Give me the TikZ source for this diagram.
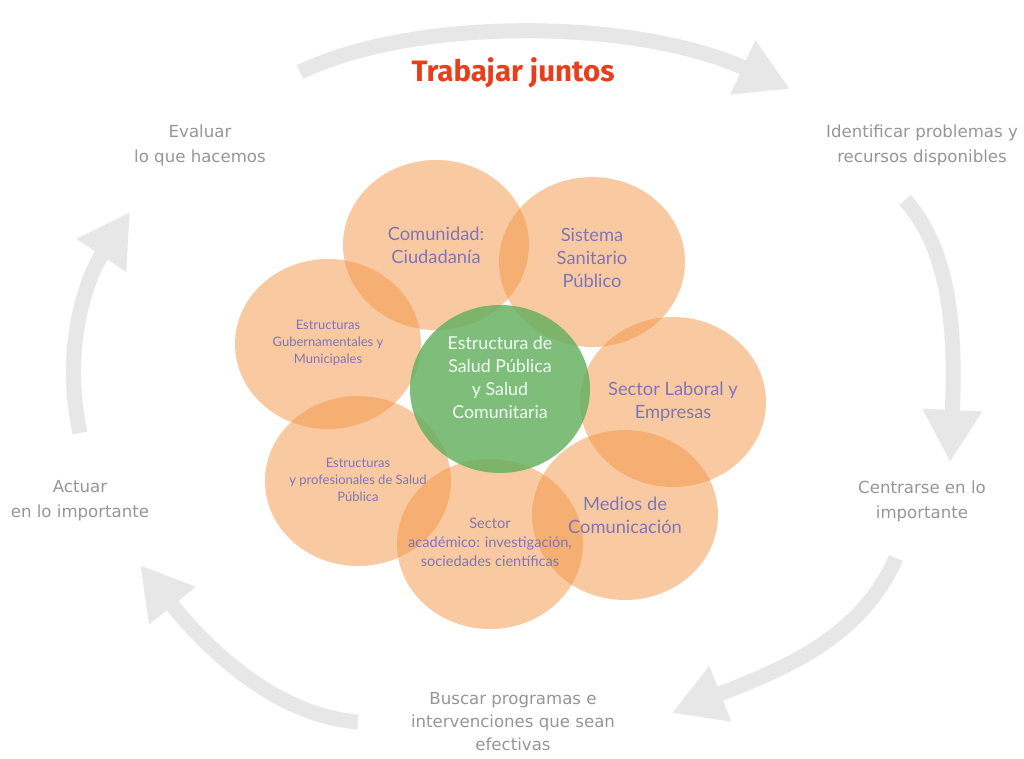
\documentclass[tikz,border=0pt]{standalone}
\usepackage{fontspec}
\setmainfont{Lato}
\newfontfamily\labelfont{DejaVu Sans}
\newfontfamily\titlefont{Fira Sans}
\usetikzlibrary{arrows.meta,shapes.geometric}
\definecolor{orangefill}{RGB}{245,150,70}
\definecolor{greenfill}{RGB}{100,175,95}
\definecolor{circtext}{RGB}{128,118,182}
\definecolor{arrowgrey}{RGB}{231,231,231}
\definecolor{labelgrey}{RGB}{150,150,150}
\definecolor{titlered}{RGB}{232,62,28}
\tikzset{
  orangecirc/.style={ellipse, fill=orangefill, fill opacity=0.5, draw=none, minimum width=186pt, minimum height=170pt, inner sep=0pt},
  greencirc/.style={ellipse, fill=greenfill, fill opacity=0.82, draw=none, minimum width=180pt, minimum height=168pt, inner sep=0pt},
  ctext/.style={text=circtext, align=center, font=\fontsize{18.3}{23}\selectfont},
  csmall/.style={text=circtext, align=center, font=\fontsize{13}{17}\selectfont},
  cmid/.style={text=circtext, align=center, font=\fontsize{14.6}{19}\selectfont},
  gtext/.style={text=white!94!green, align=center, font=\fontsize{17.8}{23}\selectfont},
  outlabel/.style={text=labelgrey, align=center, font=\labelfont\fontsize{16.6}{25}\selectfont},
  cyclearrow/.style={draw=arrowgrey, line width=15pt, -{Triangle[length=52pt,width=56pt]}},
}
\begin{document}
\begin{tikzpicture}[x=1pt,y=-1pt]
\useasboundingbox (0,0) rectangle (1024,758);
\fill[white] (0,0) rectangle (1024,758);

% cycle arrows
\coordinate (a1s) at (300,72);  \coordinate (a1e) at (790,89);
\coordinate (a2s) at (905,200); \coordinate (a2e) at (950,462);
\coordinate (a3s) at (896,558); \coordinate (a3e) at (672,713);
\coordinate (a4s) at (358,722); \coordinate (a4e) at (140,565);
\coordinate (a5s) at (80,433);  \coordinate (a5e) at (130,212);
\draw[cyclearrow] (a1s) .. controls (420,15) and (640,20) .. (a1e);
\draw[cyclearrow] (a2s) .. controls (950,250) and (956,330) .. (a2e);
\draw[cyclearrow] (a3s) .. controls (860,640) and (780,670) .. (a3e);
\draw[cyclearrow] (a4s) .. controls (270,715) and (200,640) .. (a4e);
\draw[cyclearrow] (a5s) .. controls (62,350) and (85,280) .. (a5e);

% title and outer labels
\node[text=titlered, font=\titlefont\bfseries\fontsize{29.5}{32}\selectfont] (title) at (513,73) {Trabajar juntos};
\node[outlabel] (evaluar) at (200,145) {Evaluar\\lo que hacemos};
\node[outlabel] (identificar) at (922,145) {Identificar problemas y\\recursos disponibles};
\node[outlabel] (centrarse) at (922,501) {Centrarse en lo\\importante};
\node[outlabel] (actuar) at (80,501) {Actuar\\en lo importante};
\node[outlabel, anchor=north, font=\labelfont\fontsize{16.6}{23}\selectfont] (buscar) at (513,689) {Buscar programas e\\intervenciones que sean\\efectivas};

% circles
\node[orangecirc] (com) at (436,245) {};
\node[orangecirc] (sis) at (592,262) {};
\node[orangecirc] (gub) at (328,344) {};
\node[orangecirc] (lab) at (673,402) {};
\node[orangecirc] (pro) at (358,481) {};
\node[orangecirc] (med) at (625,515) {};
\node[orangecirc] (aca) at (490,544) {};
\node[greencirc] (sp) at (500,389) {};

% circle texts
\node[ctext] (tcom) at (com.center) {Comunidad:\\Ciudadanía};
\node[ctext] (tsis) at ([yshift=4pt]sis.center) {Sistema\\Sanitario\\Público};
\node[csmall] (tgub) at ([yshift=1pt]gub.center) {Estructuras\\Gubernamentales y\\Municipales};
\node[gtext] (tsp) at ([yshift=11pt]sp.center) {Estructura de\\Salud Pública\\y Salud\\Comunitaria};
\node[ctext] (tlab) at (lab.center) {Sector Laboral y\\Empresas};
\node[csmall] (tpro) at ([yshift=1pt]pro.center) {Estructuras\\y profesionales de Salud\\Pública};
\node[ctext] (tmed) at (med.center) {Medios de\\Comunicación};
\node[cmid] (taca) at ([yshift=2pt]aca.center) {Sector\\académico: investigación,\\sociedades científicas};
\end{tikzpicture}
\end{document}
